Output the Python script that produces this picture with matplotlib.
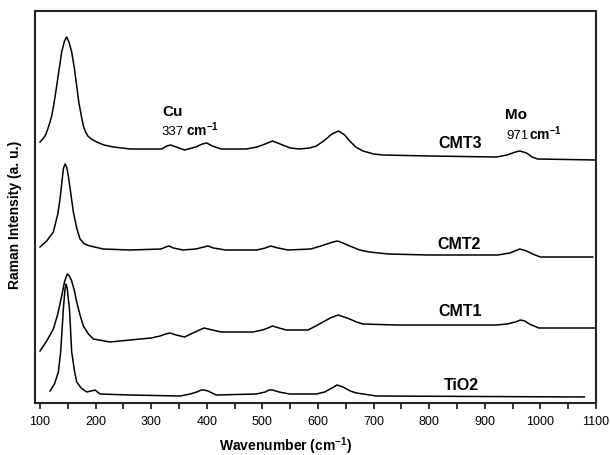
import matplotlib
matplotlib.use("Agg")
import matplotlib.pyplot as plt
from matplotlib.ticker import MultipleLocator

plt.rcParams['font.family'] = ['Liberation Sans', 'DejaVu Sans']
plt.rcParams['mathtext.default'] = 'regular'

# spectra (wavenumber, intensity in a.u.)
cmt3_x = [100, 105, 110, 114, 118, 121, 124, 127, 130, 135, 139, 144, 148, 152, 157, 162,
          166, 170, 174, 178, 182, 186, 192, 202, 215, 232, 262, 319, 328, 335, 345,
          360, 380, 392, 400, 410, 426, 471, 490, 505, 518, 532, 550, 567, 585, 597,
          610, 625, 637, 648, 657, 668, 681, 700, 717, 801, 921, 940, 955, 963, 975,
          985, 995, 1100]
cmt3_y = [261, 264, 268, 274, 281, 287, 296, 306, 317, 336, 351, 362, 366, 361, 351, 334,
          317, 300, 288, 277, 271, 267, 264, 261, 258, 256, 254, 254, 257, 258, 256,
          253, 256, 259, 260, 257, 254, 254, 256, 259, 262, 259, 255, 254, 255, 257,
          262, 269, 272, 268, 262, 256, 252, 249, 248, 247, 246, 248, 251, 252, 250,
          246, 244, 243]

cmt2_x = [100, 112, 124, 132, 136, 139, 142, 145, 148, 151, 155, 160, 166, 172, 180,
          190, 214, 262, 318, 326, 332, 340, 357, 380, 395, 402, 412, 434, 490, 505,
          515, 528, 546, 587, 605, 616, 627, 635, 645, 657, 675, 692, 727, 797, 923,
          945, 963, 975, 986, 1000, 1094]
cmt2_y = [156, 162, 171, 189, 204, 219, 234, 239, 236, 227, 211, 191, 175, 164, 159,
          157, 154, 153, 154, 156, 157, 155, 153, 154, 156, 157, 155, 153, 153, 155,
          157, 155, 153, 154, 157, 159, 161, 162, 160, 157, 153, 151, 149, 148, 148,
          150, 154, 152, 149, 146, 146]

cmt1_x = [100, 112, 124, 132, 139, 144, 149, 153, 157, 162, 166, 172, 178, 187, 196,
          226, 244, 262, 300, 316, 326, 334, 345, 360, 375, 387, 395, 410, 426, 483,
          500, 510, 518, 530, 543, 582, 596, 609, 622, 636, 647, 657, 669, 681, 741,
          921, 940, 955, 964, 972, 980, 997, 1100]
cmt1_y = [52, 62, 74, 89, 107, 121, 129, 127, 122, 112, 101, 88, 77, 69, 64,
          61, 62, 63, 65, 67, 69, 70, 68, 66, 70, 73, 75, 73, 71, 71,
          73, 75, 77, 75, 73, 73, 77, 81, 85, 88, 86, 84, 81, 79, 78,
          78, 79, 81, 83, 82, 79, 75, 75]

tio2_x = [118, 126, 133, 137, 139, 142, 145, 147, 149, 153, 157, 162, 166, 174, 184,
          192, 199, 208, 262, 352, 370, 382, 390, 395, 402, 417, 489, 505, 512, 518,
          530, 549, 597, 612, 625, 634, 645, 658, 669, 705, 1079]
tio2_y = [12, 19, 31, 50, 67, 94, 114, 119, 114, 94, 51, 32, 21, 15, 11,
          12, 13, 9, 8, 7, 9, 11, 13, 13, 12, 8, 9, 11, 13, 13,
          11, 9, 9, 11, 15, 18, 16, 12, 10, 7, 6]

series_names = ['CMT3', 'CMT2', 'CMT1', 'TiO2']
name_pos = [(855, 260), (853, 159), (855, 92), (858, 18)]

fig = plt.figure(figsize=(6.1, 4.56), dpi=100)
ax = fig.add_axes([35 / 610, 52 / 456, 561 / 610, 392 / 456])

for xs, ys in [(cmt3_x, cmt3_y), (cmt2_x, cmt2_y), (cmt1_x, cmt1_y), (tio2_x, tio2_y)]:
    ax.plot(xs, ys, color='black', linewidth=1.1)

for name, (px, py) in zip(series_names, name_pos):
    ax.text(px, py, name, ha='center', va='center', fontsize=11.5, fontweight='bold')

# peak annotations
ax.text(339, 292, 'Cu', ha='center', va='center', fontsize=11, fontweight='bold')
ax.text(318, 272, '337', ha='left', va='center', fontsize=9.5)
ax.text(363, 274, 'cm$^{-1}$', ha='left', va='center', fontsize=10, fontweight='bold')
ax.text(957, 289, 'Mo', ha='center', va='center', fontsize=11, fontweight='bold')
ax.text(938, 268, '971', ha='left', va='center', fontsize=9.5)
ax.text(980, 270, 'cm$^{-1}$', ha='left', va='center', fontsize=10, fontweight='bold')

ax.set_xlim(91, 1100)
ax.set_ylim(0, 392)
ax.xaxis.set_major_locator(MultipleLocator(100))
ax.xaxis.set_minor_locator(MultipleLocator(50))
ax.tick_params(axis='x', which='major', direction='out', length=4.5, width=1.3,
               labelsize=9, pad=4, color='#222222')
ax.tick_params(axis='x', which='minor', direction='out', length=4, width=1.3, color='#222222')
ax.set_yticks([])
for sp in ax.spines.values():
    sp.set_linewidth(1.5)
    sp.set_color('#222222')

fig.text(15 / 610, 1 - 215 / 456, 'Raman Intensity (a. u.)', rotation=90,
         ha='center', va='center', fontsize=10, fontweight='bold')
fig.text(286 / 610, 1 - 446 / 456, 'Wavenumber (cm$^{-1}$)',
         ha='center', va='center', fontsize=10, fontweight='bold')

fig.savefig('out.png', dpi=100)
